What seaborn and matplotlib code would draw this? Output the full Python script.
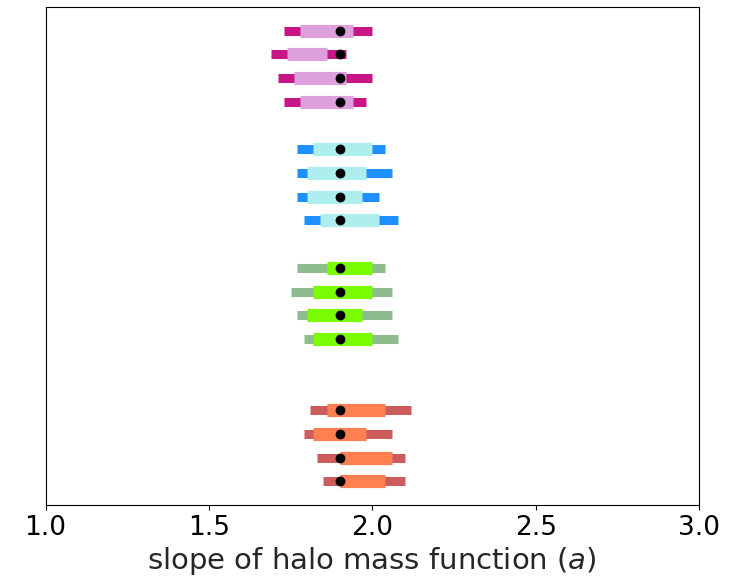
import numpy as np
import pandas as pd
import seaborn as sns
import matplotlib
matplotlib.use("Agg")
import matplotlib.pyplot as plt

sns.set_style("ticks", {"axes.edgecolor": "black", "xtick.color": "black"})
plt.rcParams['font.family'] = ['DejaVu Sans']

truth = 1.9

# row positions, grouped (top group first, top row first)
ypos = [19, 18, 17, 16, 14, 13, 12, 11, 9, 8, 7, 6, 3, 2, 1, 0]

outer_lo = [1.73, 1.69, 1.71, 1.73,
            1.77, 1.77, 1.77, 1.79,
            1.77, 1.75, 1.77, 1.79,
            1.81, 1.79, 1.83, 1.85]
outer_hi = [2.00, 1.92, 2.00, 1.98,
            2.04, 2.06, 2.02, 2.08,
            2.04, 2.06, 2.06, 2.08,
            2.12, 2.06, 2.10, 2.10]
inner_lo = [1.78, 1.74, 1.76, 1.78,
            1.82, 1.80, 1.80, 1.84,
            1.86, 1.82, 1.80, 1.82,
            1.86, 1.82, 1.90, 1.90]
inner_hi = [1.94, 1.86, 1.92, 1.94,
            2.00, 1.98, 1.97, 2.02,
            2.00, 2.00, 1.97, 2.00,
            2.04, 1.98, 2.06, 2.04]

outer_colors = ["mediumvioletred"] * 4 + ["dodgerblue"] * 4 + ["darkseagreen"] * 4 + ["indianred"] * 4
inner_colors = ["plum"] * 4 + ["paleturquoise"] * 4 + ["lawngreen"] * 4 + ["coral"] * 4

df = pd.DataFrame({"y": ypos, "olo": outer_lo, "ohi": outer_hi,
                   "ilo": inner_lo, "ihi": inner_hi, "truth": truth})

fig = plt.figure(figsize=(7.35, 5.82), dpi=100)
ax = fig.add_axes([0.062, 0.132, 0.889, 0.856])

ax.hlines(df["y"], df["olo"], df["ohi"], colors=outer_colors, lw=6.5, capstyle="butt")
ax.hlines(df["y"], df["ilo"], df["ihi"], colors=inner_colors, lw=9.5, capstyle="butt")
sns.scatterplot(data=df, x="truth", y="y", color="black", s=50, edgecolor="black",
                linewidth=0, zorder=5, ax=ax)

ax.set_xlim(1.0, 3.0)
ax.set_ylim(-1, 20)
ax.set_yticks([])
ax.set_ylabel("")
ax.set_xticks([1.0, 1.5, 2.0, 2.5, 3.0])
ax.tick_params(axis="x", labelsize=19)
ax.set_xlabel("slope of halo mass function ($a$)", fontsize=21, labelpad=3)
for s in ax.spines.values():
    s.set_linewidth(0.8)
    s.set_visible(True)

fig.savefig("out.png", dpi=100)
